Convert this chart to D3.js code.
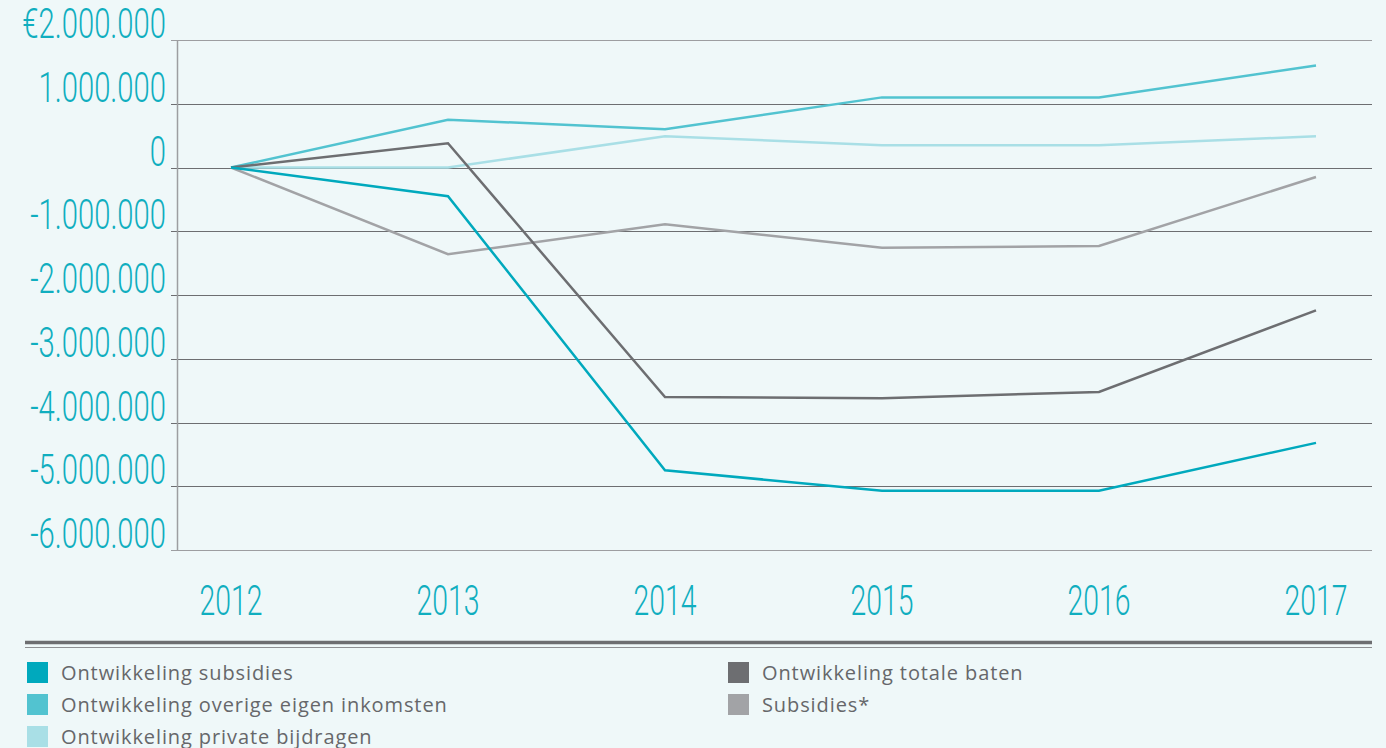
<!DOCTYPE html>
<html>
<head>
<meta charset="utf-8">
<script src="https://cdn.jsdelivr.net/npm/d3@7"></script>
<style>
  html, body { margin: 0; padding: 0; background: #eff8f9; }
  svg { display: block; }
</style>
</head>
<body>
<div id="chart"></div>
<script>
const years = ['2012', '2013', '2014', '2015', '2016', '2017'];
const yTicks = [2000000, 1000000, 0, -1000000, -2000000, -3000000, -4000000, -5000000, -6000000];

const subsidies = [0, -450000, -4750000, -5070000, -5070000, -4320000];
const overigeEigen = [0, 750000, 600000, 1100000, 1100000, 1600000];
const privateBijdragen = [0, 0, 490000, 350000, 350000, 490000];
const totaleBaten = [0, 380000, -3600000, -3620000, -3520000, -2240000];
const subsidiesStar = [0, -1360000, -890000, -1260000, -1230000, -150000];

const seriesNames = [
  'Ontwikkeling subsidies',
  'Ontwikkeling overige eigen inkomsten',
  'Ontwikkeling private bijdragen',
  'Ontwikkeling totale baten',
  'Subsidies*'
];
const seriesColors = ['#00a9bd', '#52c3d0', '#a9dfe6', '#6d6e71', '#a2a3a6'];

(function() {
    const width = 1386;
    const height = 748;

    const svg = d3.select('#chart')
      .append('svg')
      .attr('width', width)
      .attr('height', height);

    const x = d3.scalePoint()
      .domain(years)
      .range([231, 1316]);

    const y = d3.scaleLinear()
      .domain([-6000000, 2000000])
      .range([550, 40]);

    const fmt = v => {
        const s = d3.format(',')(Math.abs(v)).replace(/,/g, '.');
        if (v === 2000000) return '€' + s;
        return (v < 0 ? '-' : '') + s;
    };

    // gridlines
    svg.append('g')
      .selectAll('line')
      .data(yTicks)
      .enter().append('line')
      .attr('x1', 171)
      .attr('x2', 1372)
      .attr('y1', d => Math.round(y(d)) + 0.5)
      .attr('y2', d => Math.round(y(d)) + 0.5)
      .style('stroke', d => (d === 2000000 || d === -6000000) ? '#9d9ea1' : '#6d6e71')
      .style('stroke-width', 1.2);

    // y axis line
    svg.append('line')
      .attr('x1', 177.5).attr('x2', 177.5)
      .attr('y1', y(2000000)).attr('y2', y(-6000000))
      .style('stroke', '#9d9ea1')
      .style('stroke-width', 1.5);

    // y tick labels (condensed look)
    svg.append('g')
      .selectAll('g')
      .data(yTicks)
      .enter().append('g')
      .attr('transform', d => `translate(166,${Math.round(y(d)) - 2}) scale(0.68,1)`)
      .append('text')
      .attr('text-anchor', 'end')
      .style('font-family', 'Roboto, "Open Sans", sans-serif')
      .style('font-weight', 300)
      .style('font-size', '43px')
      .style('fill', '#10aebf')
      .text(fmt);

    // x labels
    svg.append('g')
      .selectAll('g')
      .data(years)
      .enter().append('g')
      .attr('transform', d => `translate(${x(d)},615) scale(0.66,1)`)
      .append('text')
      .attr('text-anchor', 'middle')
      .style('font-family', 'Roboto, "Open Sans", sans-serif')
      .style('font-weight', 300)
      .style('font-size', '43px')
      .style('fill', '#10aebf')
      .text(d => d);

    const line = d3.line()
      .x((d, i) => x(years[i]))
      .y(d => y(d));

    const allSeries = [subsidiesStar, privateBijdragen, overigeEigen, totaleBaten, subsidies];
    const allColors = [seriesColors[4], seriesColors[2], seriesColors[1], seriesColors[3], seriesColors[0]];

    svg.append('g')
      .selectAll('path')
      .data(allSeries)
      .enter().append('path')
      .attr('d', line)
      .style('fill', 'none')
      .style('stroke', (d, i) => allColors[i])
      .style('stroke-width', 2.5)
      .style('stroke-linejoin', 'miter');

    // separator
    svg.append('line')
      .attr('x1', 25).attr('x2', 1372)
      .attr('y1', 642.5).attr('y2', 642.5)
      .style('stroke', '#6d6e71')
      .style('stroke-width', 3.5);
    svg.append('line')
      .attr('x1', 25).attr('x2', 1372)
      .attr('y1', 647.5).attr('y2', 647.5)
      .style('stroke', '#8e9093')
      .style('stroke-width', 1);

    // legend
    const legendPos = [[27, 662], [27, 694], [27, 726], [728, 662], [728, 694]];
    const legend = svg.append('g')
      .selectAll('g')
      .data(seriesNames)
      .enter().append('g')
      .attr('transform', (d, i) => `translate(${legendPos[i][0]},${legendPos[i][1]})`);

    legend.append('rect')
      .attr('width', 21)
      .attr('height', 21)
      .style('fill', (d, i) => seriesColors[i]);

    legend.append('text')
      .attr('x', 34)
      .attr('y', 18)
      .style('font-family', '"Open Sans", sans-serif')
      .style('font-size', '20px')
      .style('letter-spacing', '0.9px')
      .style('fill', '#66676a')
      .text(d => d);
})();
</script>
</body>
</html>
